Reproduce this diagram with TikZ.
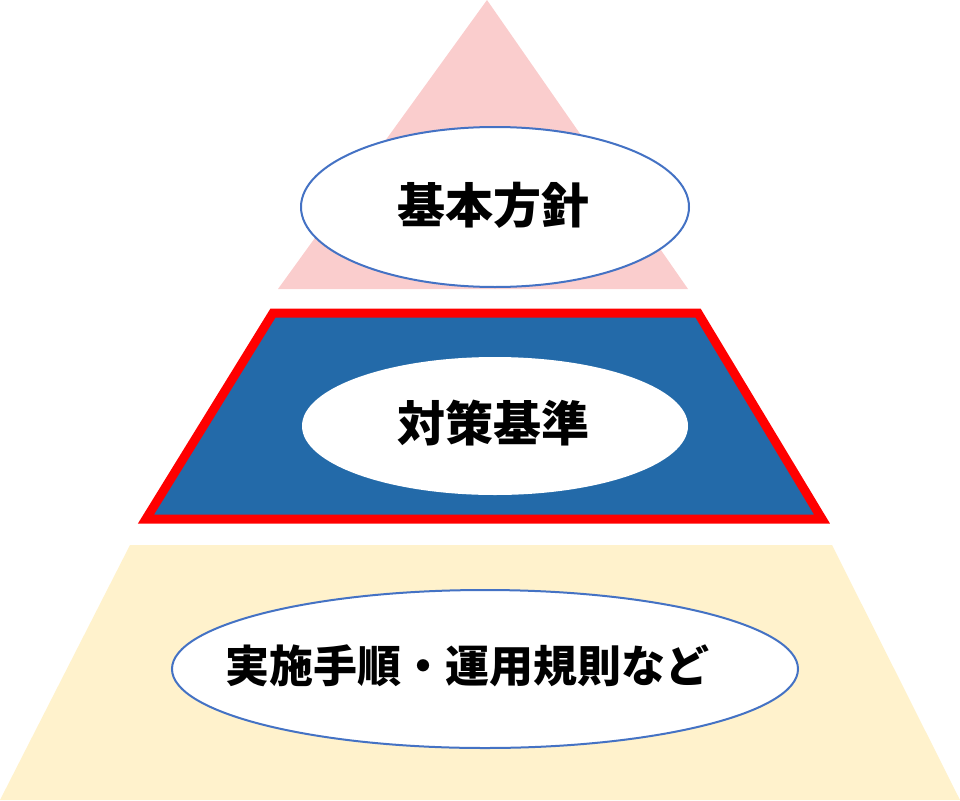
\documentclass[tikz,border=0pt]{standalone}
\usepackage{fontspec}
\newfontfamily\jpfont{Noto Sans CJK JP}
\usetikzlibrary{shapes.geometric,positioning}

\definecolor{pinkfill}{RGB}{250,205,205}
\definecolor{bluefill}{RGB}{35,106,169}
\definecolor{creamfill}{RGB}{255,242,204}
\definecolor{ringblue}{RGB}{68,114,196}
\definecolor{framered}{RGB}{255,0,0}

\begin{document}
\begin{tikzpicture}[x=1pt,y=-1pt,
    oval/.style={ellipse,draw=ringblue,line width=2pt,fill=white,inner sep=0pt},
    tag/.style={font=\jpfont\bfseries\fontsize{#1}{#1}\selectfont,inner sep=0pt}]
    \useasboundingbox (0,0) rectangle (960,800);
    % three layers of the pyramid
    \fill[pinkfill] (487,0) -- (688,289) -- (278,289) -- cycle;
    \draw[fill=bluefill,draw=framered,line width=9pt] (273,313) -- (698,313) -- (822,519) -- (146,519) -- cycle;
    \fill[creamfill] (130,545) -- (832,545) -- (960,800) -- (0,800) -- cycle;
    % ovals and their texts
    \node[oval,minimum width=388pt,minimum height=160pt] (kihon) at (495,207) {};
    \node[oval,draw=none,minimum width=386pt,minimum height=138pt] (taisaku) at (495,426) {};
    \node[oval,minimum width=626pt,minimum height=158pt] (jisshi) at (485,669) {};
    \node[tag=48] (kihonT) at ([xshift=-2pt,yshift=2pt]kihon.center) {基本方針};
    \node[tag=48] (taisakuT) at ([xshift=-2pt,yshift=3pt]taisaku.center) {対策基準};
    \node[tag=44] (jisshiT) at ([xshift=-18pt,yshift=3pt]jisshi.center) {実施手順・運用規則など};
  \end{tikzpicture}
\end{document}
